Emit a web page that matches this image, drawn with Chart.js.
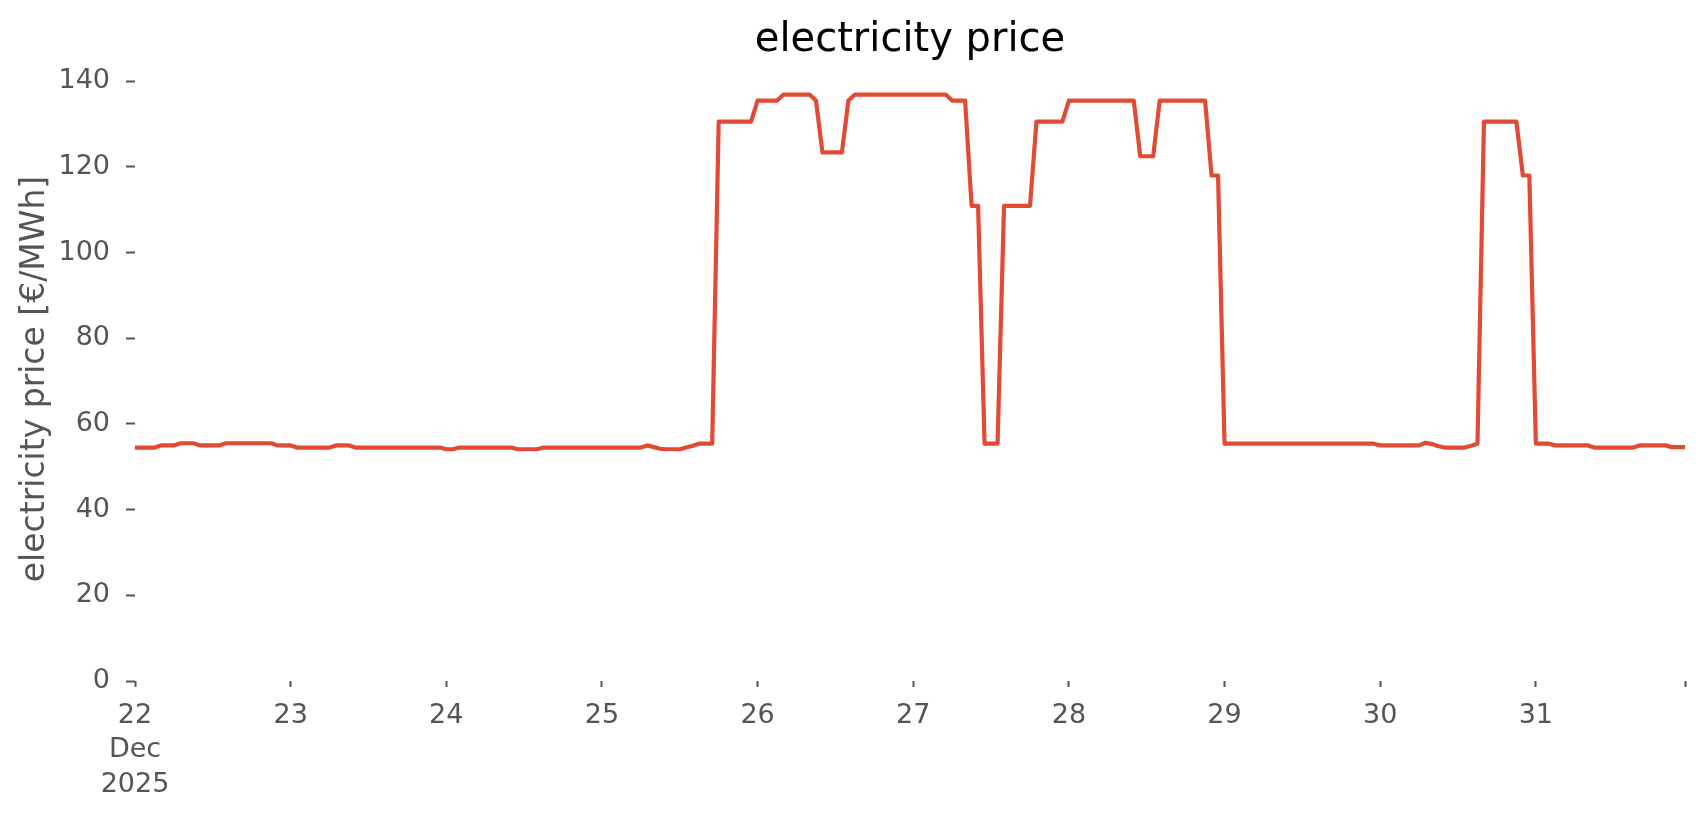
<!DOCTYPE html>
<html>
<head>
<meta charset="utf-8">
<title>electricity price</title>
<script src="https://cdn.jsdelivr.net/npm/chart.js@4.4.1/dist/chart.umd.min.js"></script>
<style>
    html, body { margin: 0; padding: 0; background: #ffffff; }
    #wrap { width: 1706px; height: 815px; }
</style>
</head>
<body>
<div id="wrap"><canvas id="priceChart" width="1706" height="815"></canvas></div>
<script>
// x axis tick labels, one per day
var dayLabels = ['22', '23', '24', '25', '26', '27', '28', '29', '30', '31'];
var monthLabel = 'Dec';
var yearLabel = '2025';
var yTicks = [0, 20, 40, 60, 80, 100, 120, 140];

// hourly price in EUR/MWh, 00:00 .. 23:00 for each day
var dec22 = [54.5, 54.5, 54.5, 54.5, 55.0, 55.0, 55.0, 55.5, 55.5, 55.5, 55.0, 55.0,
             55.0, 55.0, 55.5, 55.5, 55.5, 55.5, 55.5, 55.5, 55.5, 55.5, 55.0, 55.0];
var dec23 = [55.0, 54.5, 54.5, 54.5, 54.5, 54.5, 54.5, 55.0, 55.0, 55.0, 54.5, 54.5,
             54.5, 54.5, 54.5, 54.5, 54.5, 54.5, 54.5, 54.5, 54.5, 54.5, 54.5, 54.5];
var dec24 = [54.1, 54.1, 54.5, 54.5, 54.5, 54.5, 54.5, 54.5, 54.5, 54.5, 54.5, 54.1,
             54.1, 54.1, 54.1, 54.5, 54.5, 54.5, 54.5, 54.5, 54.5, 54.5, 54.5, 54.5];
var dec25 = [54.5, 54.5, 54.5, 54.5, 54.5, 54.5, 54.5, 55.0, 54.6, 54.2, 54.1, 54.1,
             54.1, 54.5, 54.9, 55.4, 55.4, 55.4, 130.6, 130.6, 130.6, 130.6, 130.6, 130.6];
var dec26 = [135.5, 135.5, 135.5, 135.5, 136.9, 136.9, 136.9, 136.9, 136.9, 135.5, 123.4, 123.4,
             123.4, 123.4, 135.5, 136.9, 136.9, 136.9, 136.9, 136.9, 136.9, 136.9, 136.9, 136.9];
var dec27 = [136.9, 136.9, 136.9, 136.9, 136.9, 136.9, 135.5, 135.5, 135.5, 110.9, 110.9, 55.4,
             55.4, 55.4, 110.9, 110.9, 110.9, 110.9, 110.9, 130.6, 130.6, 130.6, 130.6, 130.6];
var dec28 = [135.5, 135.5, 135.5, 135.5, 135.5, 135.5, 135.5, 135.5, 135.5, 135.5, 135.5, 122.5,
             122.5, 122.5, 135.5, 135.5, 135.5, 135.5, 135.5, 135.5, 135.5, 135.5, 118.0, 118.0];
var dec29 = [55.4, 55.4, 55.4, 55.4, 55.4, 55.4, 55.4, 55.4, 55.4, 55.4, 55.4, 55.4,
             55.4, 55.4, 55.4, 55.4, 55.4, 55.4, 55.4, 55.4, 55.4, 55.4, 55.4, 55.4];
var dec30 = [55.0, 55.0, 55.0, 55.0, 55.0, 55.0, 55.0, 55.6, 55.3, 54.8, 54.5, 54.5,
             54.5, 54.5, 54.9, 55.4, 130.6, 130.6, 130.6, 130.6, 130.6, 130.6, 118.0, 118.0];
var dec31 = [55.4, 55.4, 55.4, 55.0, 55.0, 55.0, 55.0, 55.0, 55.0, 54.5, 54.5, 54.5,
             54.5, 54.5, 54.5, 54.5, 55.0, 55.0, 55.0, 55.0, 55.0, 54.6, 54.6, 54.6];

var prices = [].concat(dec22, dec23, dec24, dec25, dec26, dec27, dec28, dec29, dec30, dec31);

var hourLabels = [];
dayLabels.forEach(function(day) {
    for (var h = 0; h < 24; h++) {
        hourLabels.push(day + ' ' + (h < 10 ? '0' : '') + h + ':00');
    }
});

var textGrey = '#555555';
var fontFamily = "'DejaVu Sans', sans-serif";

document.addEventListener('DOMContentLoaded', function() {
    var ctx = document.getElementById('priceChart').getContext('2d');
    var priceChart = new Chart(ctx, {
        type: 'line',
        data: {
            labels: hourLabels,
            datasets: [{
                label: 'electricity price',
                data: prices,
                borderColor: '#E24A33',
                backgroundColor: '#E24A33',
                borderWidth: 4.2,
                borderJoinStyle: 'round',
                pointRadius: 0,
                tension: 0,
                fill: false
            }]
        },
        options: {
            responsive: false,
            animation: false,
            devicePixelRatio: 1,
            layout: {
                padding: { left: 0, right: 21, top: 0, bottom: 0 }
            },
            plugins: {
                legend: { display: false },
                tooltip: { enabled: false },
                title: {
                    display: true,
                    text: 'electricity price',
                    color: '#000000',
                    fullSize: false,
                    font: { family: fontFamily, size: 40, weight: 'normal', lineHeight: 1.2 },
                    padding: { top: 17, bottom: 12 }
                }
            },
            scales: {
                x: {
                    type: 'category',
                    offset: false,
                    border: { display: false },
                    grid: {
                        drawOnChartArea: false,
                        drawTicks: true,
                        tickLength: 6,
                        tickWidth: 2,
                        tickColor: textGrey
                    },
                    ticks: {
                        autoSkip: false,
                        maxRotation: 0,
                        minRotation: 0,
                        padding: 12,
                        color: textGrey,
                        font: { family: fontFamily, size: 27, lineHeight: 1.27 },
                        callback: function(value, index) {
                            if (index % 24 === 0) {
                                var day = dayLabels[index / 24];
                                return index === 0 ? [day, monthLabel, yearLabel] : day;
                            }
                            if (index === hourLabels.length - 1) {
                                return '';
                            }
                            return null;
                        }
                    },
                    afterFit: function(scale) {
                        scale.height = 134;
                    }
                },
                y: {
                    min: 0,
                    max: 141,
                    border: { display: false },
                    grid: {
                        drawOnChartArea: false,
                        drawTicks: true,
                        tickLength: 9,
                        tickWidth: 2,
                        tickColor: textGrey
                    },
                    ticks: {
                        padding: 16,
                        color: textGrey,
                        font: { family: fontFamily, size: 27 }
                    },
                    afterBuildTicks: function(scale) {
                        scale.ticks = yTicks.map(function(v) { return { value: v }; });
                    },
                    title: {
                        display: true,
                        text: 'electricity price [€/MWh]',
                        color: textGrey,
                        font: { family: fontFamily, size: 33, lineHeight: 1.2 },
                        padding: { top: 16, bottom: 0 }
                    },
                    afterFit: function(scale) {
                        scale.width = 135;
                    }
                }
            }
        }
    });
});
</script>
</body>
</html>
